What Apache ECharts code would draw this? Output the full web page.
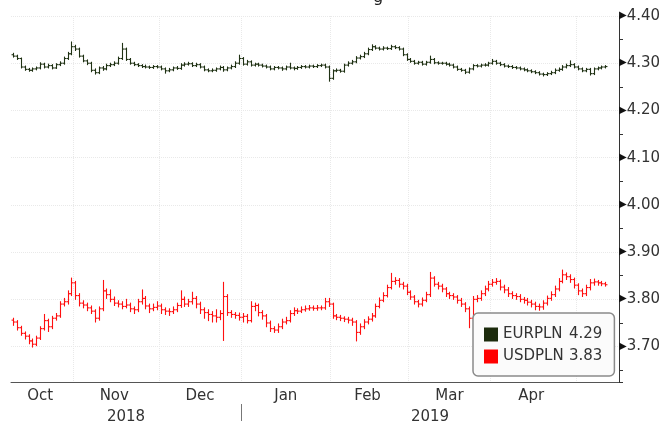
<!DOCTYPE html>
<html>
<head>
<meta charset="utf-8">
<script src="https://cdn.jsdelivr.net/npm/echarts@6/dist/echarts.min.js"></script>
<style>
html, body { margin: 0; padding: 0; background: #fff; }
#chart { width: 667px; height: 421px; }
</style>
</head>
<body>
<div id="chart"></div>
<script>
// trading days on the axis: weekdays from firstDay to lastDay (data stops a few days earlier)
var firstDay = '2018-10-10';
var lastDay = '2019-05-15';
var monthNames = ['Jan', 'Feb', 'Mar', 'Apr', 'May', 'Jun', 'Jul', 'Aug', 'Sep', 'Oct', 'Nov', 'Dec'];

// EURPLN daily bars
var eurOpen = [4.318,4.315,4.310,4.292,4.287,4.285,4.288,4.290,4.298,4.292,
  4.295,4.290,4.297,4.300,4.310,4.320,4.335,4.330,4.315,4.305,
  4.300,4.285,4.280,4.290,4.288,4.295,4.297,4.300,4.310,4.330,
  4.308,4.300,4.297,4.295,4.293,4.292,4.291,4.293,4.292,4.288,
  4.284,4.286,4.290,4.289,4.296,4.298,4.299,4.295,4.297,4.292,
  4.286,4.284,4.285,4.288,4.291,4.286,4.290,4.293,4.300,4.310,
  4.298,4.303,4.296,4.298,4.296,4.294,4.292,4.288,4.291,4.290,
  4.288,4.292,4.290,4.289,4.291,4.293,4.292,4.294,4.293,4.295,
  4.296,4.292,4.268,4.284,4.285,4.283,4.296,4.300,4.303,4.311,
  4.314,4.320,4.329,4.335,4.332,4.330,4.332,4.331,4.335,4.333,
  4.330,4.318,4.308,4.304,4.300,4.302,4.298,4.302,4.308,4.301,
  4.300,4.300,4.298,4.296,4.292,4.287,4.285,4.281,4.288,4.295,
  4.294,4.296,4.296,4.300,4.304,4.300,4.297,4.294,4.293,4.291,
  4.290,4.288,4.286,4.284,4.282,4.280,4.277,4.276,4.278,4.280,
  4.285,4.287,4.292,4.295,4.297,4.292,4.288,4.284,4.287,4.278,
  4.288,4.290,4.292];
var eurHigh = [4.321,4.317,4.311,4.294,4.289,4.290,4.292,4.301,4.300,4.298,
  4.297,4.299,4.303,4.313,4.323,4.345,4.338,4.332,4.317,4.307,
  4.302,4.288,4.292,4.293,4.298,4.300,4.303,4.313,4.342,4.332,
  4.310,4.302,4.299,4.297,4.296,4.294,4.295,4.295,4.294,4.290,
  4.289,4.292,4.293,4.299,4.301,4.302,4.301,4.300,4.299,4.294,
  4.288,4.288,4.290,4.294,4.293,4.292,4.296,4.303,4.317,4.312,
  4.306,4.305,4.300,4.300,4.298,4.296,4.294,4.293,4.293,4.292,
  4.294,4.300,4.292,4.293,4.295,4.295,4.296,4.296,4.297,4.298,
  4.298,4.294,4.286,4.288,4.287,4.298,4.303,4.306,4.314,4.317,
  4.323,4.332,4.339,4.337,4.334,4.335,4.334,4.338,4.337,4.335,
  4.332,4.320,4.310,4.306,4.304,4.304,4.304,4.315,4.310,4.303,
  4.302,4.302,4.300,4.298,4.294,4.289,4.287,4.290,4.297,4.297,
  4.298,4.299,4.302,4.308,4.306,4.302,4.299,4.296,4.295,4.293,
  4.292,4.290,4.288,4.286,4.284,4.282,4.279,4.280,4.283,4.288,
  4.290,4.295,4.298,4.305,4.299,4.294,4.290,4.289,4.289,4.290,
  4.292,4.294,4.295];
var eurLow = [4.313,4.308,4.290,4.285,4.283,4.283,4.286,4.288,4.290,4.290,
  4.288,4.289,4.295,4.298,4.308,4.318,4.327,4.313,4.303,4.297,
  4.282,4.277,4.278,4.285,4.286,4.293,4.295,4.298,4.308,4.306,
  4.298,4.295,4.293,4.291,4.290,4.289,4.289,4.290,4.286,4.279,
  4.282,4.284,4.287,4.287,4.294,4.296,4.293,4.293,4.290,4.284,
  4.282,4.282,4.283,4.286,4.283,4.284,4.288,4.291,4.298,4.296,
  4.296,4.294,4.294,4.294,4.292,4.290,4.286,4.286,4.288,4.285,
  4.286,4.288,4.286,4.287,4.289,4.290,4.290,4.291,4.291,4.293,
  4.290,4.262,4.266,4.282,4.281,4.281,4.294,4.298,4.301,4.309,
  4.312,4.318,4.327,4.330,4.328,4.328,4.329,4.329,4.331,4.328,
  4.316,4.306,4.302,4.298,4.298,4.296,4.296,4.300,4.299,4.298,
  4.298,4.296,4.294,4.290,4.285,4.283,4.278,4.279,4.286,4.292,
  4.292,4.294,4.294,4.298,4.298,4.295,4.292,4.291,4.289,4.288,
  4.286,4.284,4.282,4.280,4.278,4.275,4.273,4.274,4.276,4.278,
  4.283,4.285,4.290,4.293,4.290,4.286,4.282,4.282,4.275,4.276,
  4.286,4.288,4.290];
var eurClose = [4.315,4.310,4.292,4.287,4.285,4.288,4.290,4.298,4.292,4.295,
  4.290,4.297,4.300,4.310,4.320,4.335,4.330,4.315,4.305,4.300,
  4.285,4.280,4.290,4.288,4.295,4.297,4.300,4.310,4.330,4.308,
  4.300,4.297,4.295,4.293,4.292,4.291,4.293,4.292,4.288,4.284,
  4.286,4.290,4.289,4.296,4.298,4.299,4.295,4.297,4.292,4.286,
  4.284,4.285,4.288,4.291,4.286,4.290,4.293,4.300,4.310,4.298,
  4.303,4.296,4.298,4.296,4.294,4.292,4.288,4.291,4.290,4.288,
  4.292,4.290,4.289,4.291,4.293,4.292,4.294,4.293,4.295,4.296,
  4.292,4.268,4.284,4.285,4.283,4.296,4.300,4.303,4.311,4.314,
  4.320,4.329,4.335,4.332,4.330,4.332,4.331,4.335,4.333,4.330,
  4.318,4.308,4.304,4.300,4.302,4.298,4.302,4.308,4.301,4.300,
  4.300,4.298,4.296,4.292,4.287,4.285,4.281,4.288,4.295,4.294,
  4.296,4.296,4.300,4.304,4.300,4.297,4.294,4.293,4.291,4.290,
  4.288,4.286,4.284,4.282,4.280,4.277,4.276,4.278,4.280,4.285,
  4.287,4.292,4.295,4.297,4.292,4.288,4.284,4.287,4.278,4.288,
  4.290,4.292,4.293];

// USDPLN daily bars
var usdOpen = [3.756,3.752,3.740,3.728,3.722,3.712,3.705,3.718,3.738,3.755,
  3.742,3.760,3.765,3.790,3.795,3.812,3.835,3.808,3.792,3.788,
  3.782,3.775,3.760,3.780,3.818,3.810,3.800,3.792,3.790,3.785,
  3.788,3.780,3.778,3.795,3.802,3.786,3.780,3.783,3.786,3.778,
  3.775,3.774,3.778,3.787,3.800,3.790,3.795,3.802,3.790,3.778,
  3.772,3.768,3.765,3.762,3.770,3.806,3.772,3.768,3.766,3.762,
  3.764,3.755,3.785,3.787,3.772,3.765,3.750,3.738,3.735,3.742,
  3.752,3.755,3.770,3.776,3.775,3.778,3.780,3.782,3.781,3.782,
  3.782,3.795,3.790,3.765,3.762,3.760,3.758,3.756,3.752,3.730,
  3.742,3.752,3.758,3.765,3.785,3.798,3.808,3.825,3.838,3.840,
  3.832,3.828,3.815,3.805,3.795,3.790,3.798,3.810,3.845,3.832,
  3.828,3.822,3.812,3.808,3.805,3.798,3.790,3.780,3.760,3.800,
  3.802,3.812,3.822,3.832,3.836,3.838,3.826,3.820,3.812,3.808,
  3.806,3.800,3.798,3.794,3.790,3.785,3.784,3.792,3.802,3.810,
  3.822,3.838,3.852,3.848,3.842,3.830,3.818,3.812,3.825,3.835,
  3.837,3.835,3.833];
var usdHigh = [3.760,3.755,3.743,3.731,3.725,3.716,3.722,3.742,3.768,3.758,
  3.764,3.770,3.795,3.802,3.818,3.845,3.838,3.812,3.797,3.792,
  3.786,3.778,3.784,3.840,3.822,3.820,3.805,3.797,3.795,3.800,
  3.792,3.784,3.800,3.820,3.806,3.790,3.790,3.795,3.790,3.782,
  3.780,3.784,3.792,3.818,3.805,3.800,3.815,3.806,3.794,3.782,
  3.778,3.774,3.778,3.776,3.836,3.810,3.776,3.772,3.771,3.770,
  3.768,3.795,3.792,3.790,3.776,3.768,3.754,3.742,3.748,3.758,
  3.762,3.776,3.782,3.780,3.784,3.786,3.787,3.786,3.787,3.786,
  3.802,3.802,3.792,3.768,3.766,3.763,3.762,3.760,3.755,3.748,
  3.757,3.763,3.770,3.790,3.803,3.814,3.830,3.855,3.846,3.844,
  3.836,3.832,3.818,3.808,3.798,3.803,3.815,3.857,3.848,3.836,
  3.832,3.825,3.815,3.812,3.808,3.802,3.793,3.784,3.806,3.808,
  3.818,3.828,3.838,3.842,3.844,3.841,3.830,3.825,3.816,3.812,
  3.810,3.804,3.802,3.798,3.794,3.790,3.797,3.807,3.816,3.828,
  3.844,3.862,3.856,3.852,3.845,3.833,3.822,3.830,3.842,3.843,
  3.840,3.838,3.836];
var usdLow = [3.745,3.735,3.724,3.716,3.706,3.699,3.702,3.715,3.735,3.732,
  3.738,3.756,3.762,3.786,3.790,3.808,3.800,3.786,3.782,3.776,
  3.770,3.752,3.756,3.776,3.802,3.795,3.787,3.784,3.780,3.782,
  3.774,3.770,3.774,3.790,3.780,3.772,3.776,3.778,3.770,3.768,
  3.766,3.770,3.774,3.783,3.785,3.785,3.790,3.782,3.770,3.760,
  3.755,3.752,3.752,3.757,3.713,3.766,3.762,3.760,3.756,3.752,
  3.750,3.752,3.776,3.765,3.758,3.742,3.732,3.730,3.730,3.738,
  3.748,3.752,3.766,3.770,3.772,3.775,3.777,3.777,3.777,3.778,
  3.779,3.785,3.760,3.757,3.755,3.753,3.750,3.745,3.712,3.726,
  3.738,3.748,3.754,3.762,3.782,3.795,3.805,3.822,3.832,3.826,
  3.822,3.810,3.800,3.790,3.784,3.786,3.795,3.806,3.828,3.822,
  3.816,3.806,3.802,3.800,3.792,3.785,3.774,3.740,3.756,3.795,
  3.798,3.808,3.818,3.828,3.832,3.820,3.814,3.806,3.802,3.800,
  3.795,3.792,3.788,3.784,3.778,3.777,3.779,3.788,3.798,3.806,
  3.818,3.835,3.842,3.836,3.824,3.810,3.806,3.808,3.820,3.830,
  3.830,3.829,3.828];
var usdClose = [3.752,3.740,3.728,3.722,3.712,3.705,3.718,3.738,3.755,3.742,
  3.760,3.765,3.790,3.795,3.812,3.835,3.808,3.792,3.788,3.782,
  3.775,3.760,3.780,3.818,3.810,3.800,3.792,3.790,3.785,3.788,
  3.780,3.778,3.795,3.802,3.786,3.780,3.783,3.786,3.778,3.775,
  3.774,3.778,3.787,3.800,3.790,3.795,3.802,3.790,3.778,3.772,
  3.768,3.765,3.762,3.770,3.806,3.772,3.768,3.766,3.762,3.764,
  3.755,3.785,3.787,3.772,3.765,3.750,3.738,3.735,3.742,3.752,
  3.755,3.770,3.776,3.775,3.778,3.780,3.782,3.781,3.782,3.782,
  3.795,3.790,3.765,3.762,3.760,3.758,3.756,3.752,3.730,3.742,
  3.752,3.758,3.765,3.785,3.798,3.808,3.825,3.838,3.840,3.832,
  3.828,3.815,3.805,3.795,3.790,3.798,3.810,3.845,3.832,3.828,
  3.822,3.812,3.808,3.805,3.798,3.790,3.780,3.760,3.800,3.802,
  3.812,3.822,3.832,3.836,3.838,3.826,3.820,3.812,3.808,3.806,
  3.800,3.798,3.794,3.790,3.785,3.784,3.792,3.802,3.810,3.822,
  3.838,3.852,3.848,3.842,3.830,3.818,3.812,3.825,3.835,3.837,
  3.835,3.833,3.831];

var yMin = 3.625, yMax = 4.40;
var font = 'DejaVu Sans';
var eurColor = '#203214', eurKey = '#1b2a0c', usdColor = '#ff1010';

// build the category list
var days = [];
for (var d = new Date(firstDay + 'T00:00:00Z'); d <= new Date(lastDay + 'T00:00:00Z'); d.setUTCDate(d.getUTCDate() + 1)) {
	var wd = d.getUTCDay();
	if (wd !== 0 && wd !== 6) days.push(d.toISOString().slice(0, 10));
}

// month / year groupings for ticks and labels
var monthStart = [], monthLabel = [], yearStart = [], yearLabel = [];
function groups(keyLen, starts, labels, minLen) {
	var s = 0;
	for (var i = 1; i <= days.length; i++) {
		if (i === days.length || days[i].slice(0, keyLen) !== days[i - 1].slice(0, keyLen)) {
			if (i < days.length) starts.push(i);
			if (i - s >= minLen) labels.push(Math.floor((s + i - 1) / 2));
			s = i;
		}
	}
}
groups(7, monthStart, monthLabel, 14);
groups(4, yearStart, yearLabel, 1);

function bars(o, h, l, c) {
	return c.map(function (v, i) { return [i, o[i], h[i], l[i], v]; });
}

function renderBar(params, api) {
	var i = api.value(0);
	var pO = api.coord([i, api.value(1)]);
	var pH = api.coord([i, api.value(2)]);
	var pL = api.coord([i, api.value(3)]);
	var pC = api.coord([i, api.value(4)]);
	var half = api.size([1, 0])[0] / 2;
	var x = Math.round(pH[0]) + 0.5;
	var style = { stroke: api.visual('color'), lineWidth: 1.1 };
	return {
		type: 'group',
		children: [
			{ type: 'line', shape: { x1: x, y1: pH[1] - 0.5, x2: x, y2: pL[1] + 0.5 }, style: style },
			{ type: 'line', shape: { x1: x - half, y1: pO[1], x2: x, y2: pO[1] }, style: style },
			{ type: 'line', shape: { x1: x, y1: pC[1], x2: x + half, y2: pC[1] }, style: style }
		]
	};
}

var lastVal = {
	EURPLN: eurClose[eurClose.length - 1].toFixed(2),
	USDPLN: usdClose[usdClose.length - 1].toFixed(2)
};

var myChart = echarts.init(document.getElementById('chart'));
var option = {
	animation: false,
	backgroundColor: '#fff',
	textStyle: { fontFamily: font },
	grid: { left: 11, right: 48, top: 16, bottom: 39, containLabel: false, outerBoundsMode: 'none' },
	legend: {
		left: 473, top: 313,
		orient: 'vertical',
		selectedMode: false,
		icon: 'rect',
		itemWidth: 14, itemHeight: 14, itemGap: 7,
		padding: [14, 12, 12, 11],
		backgroundColor: '#fbfbfb',
		borderColor: '#8a8a8a', borderWidth: 1.5, borderRadius: 5,
		data: [
			{ name: 'EURPLN', itemStyle: { color: eurKey } },
			{ name: 'USDPLN', itemStyle: { color: '#ff0000' } }
		],
		formatter: function (name) { return '{n|' + name + '}{v|' + lastVal[name] + '}'; },
		textStyle: {
			fontFamily: font, fontSize: 15, color: '#333',
			rich: {
				n: { width: 66, fontFamily: font, fontSize: 15, color: '#333' },
				v: { fontFamily: font, fontSize: 15, color: '#333' }
			}
		}
	},
	xAxis: [
		{
			type: 'category',
			data: days,
			boundaryGap: true,
			axisLine: { lineStyle: { color: '#555', width: 1 } },
			axisTick: { length: 5, lineStyle: { color: '#555' }, interval: function (i) { return monthStart.indexOf(i) >= 0; } },
			axisLabel: {
				margin: 7, fontFamily: font, fontSize: 15, color: '#333',
				interval: function (i) { return monthLabel.indexOf(i) >= 0; },
				formatter: function (v) { return monthNames[+v.slice(5, 7) - 1]; }
			},
			splitLine: { show: true, interval: function (i) { return monthStart.indexOf(i) >= 0; }, lineStyle: { color: '#e9e9e9', type: 'dotted' } }
		},
		{
			type: 'category',
			data: days,
			position: 'bottom',
			offset: 24,
			axisLine: { show: false },
			axisTick: { show: false },
			axisLabel: {
				margin: 4, fontFamily: font, fontSize: 15, color: '#333',
				interval: function (i) { return yearLabel.indexOf(i) >= 0; },
				formatter: function (v) { return v.slice(0, 4); }
			},
			splitLine: { show: false }
		}
	],
	yAxis: [
		{
			type: 'value',
			position: 'right',
			min: yMin, max: yMax,
			splitNumber: 8,
			axisLine: { show: true, lineStyle: { color: '#333', width: 1 } },
			axisTick: { show: false },
			axisLabel: {
				margin: 0,
				fontFamily: font, fontSize: 15, color: '#333',
				formatter: function (v) {
					if (Math.abs(v * 10 - Math.round(v * 10)) > 1e-6) return '';
					return '{t|\u25B6}' + v.toFixed(2);
				},
				rich: { t: { fontSize: 10, color: '#111', fontFamily: font, padding: [0, 0, 1, 0] } }
			},
			splitLine: { show: true, lineStyle: { color: '#e9e9e9', type: 'dotted' } }
		},
		{
			type: 'value',
			position: 'right',
			min: yMin, max: yMax,
			splitNumber: 16,
			axisLine: { show: false },
			axisTick: { show: true, length: 4, lineStyle: { color: '#333' } },
			axisLabel: { show: false },
			splitLine: { show: false }
		}
	],
	series: [
		{
			name: 'EURPLN',
			type: 'custom',
			renderItem: renderBar,
			itemStyle: { color: eurColor },
			encode: { x: 0, y: [1, 2, 3, 4] },
			data: bars(eurOpen, eurHigh, eurLow, eurClose)
		},
		{
			name: 'USDPLN',
			type: 'custom',
			renderItem: renderBar,
			itemStyle: { color: usdColor },
			encode: { x: 0, y: [1, 2, 3, 4] },
			data: bars(usdOpen, usdHigh, usdLow, usdClose)
		}
	]
};
myChart.setOption(option);

// year separator below the axis, placed from the category scale
var c0 = myChart.convertToPixel({ xAxisIndex: 0 }, days[yearStart[0]]);
var c1 = myChart.convertToPixel({ xAxisIndex: 0 }, days[yearStart[0] + 1]);
var sepX = Math.round(c0 - (c1 - c0) / 2) + 0.5;
myChart.setOption({
	graphic: [
		{ type: 'line', shape: { x1: sepX, y1: 404, x2: sepX, y2: 421 }, style: { stroke: '#777', lineWidth: 1 } },
		{ type: 'text', x: 373, y: 6, style: { text: 'g', fontFamily: font, fontSize: 16, fill: '#222', verticalAlign: 'bottom' } }
	]
});
</script>
</body>
</html>
